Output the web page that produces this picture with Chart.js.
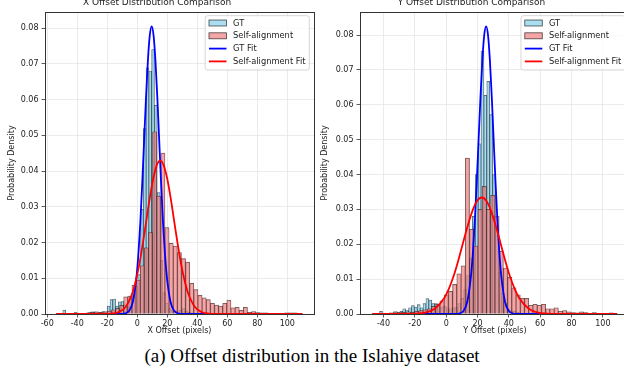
<!DOCTYPE html>
<html>
<head>
<meta charset="utf-8">
<script src="https://cdn.jsdelivr.net/npm/chart.js@4.4.0/dist/chart.umd.min.js"></script>
<style>
html,body{margin:0;padding:0;background:#fff;width:624px;height:383px;overflow:hidden;position:relative}
canvas{position:absolute;top:-10px}
#left{left:0}
#right{left:313px}
#caption{position:absolute;left:0;width:624px;top:346px;text-align:center;font-family:"Liberation Serif";font-size:19px;line-height:19px;color:#000;white-space:nowrap}
</style>
</head>
<body>
<canvas id="left" width="320" height="352"></canvas>
<canvas id="right" width="320" height="352"></canvas>
<div id="caption">(a) Offset distribution in the Islahiye dataset</div>
<script>
// tick labels
let ticksXL=[-60,-40,-20,0,20,40,60,80,100]
let ticksXR=[-40,-20,0,20,40,60,80,100]
let ticksY=[0,0.01,0.02,0.03,0.04,0.05,0.06,0.07,0.08]

let legendLabels=['GT','Self-alignment','GT Fit','Self-alignment Fit']

// X offset histograms (density per bin, bins)
let xGtStart=-49.6, xGtWidth=1.85
let xGt=[0.0011,0,0,0.0002,0.0004,0.0002,0,0.0002,0,0.0004,
 0.0006,0.0006,0.0005,0.0004,0.0007,0.0006,0.0022,0.0040,0.0042,0.0022,
 0.0034,0.0035,0.0026,0.0020,0.0050,0.0048,0.0078,0.0110,0.0293,0.0519,
 0.0689,0.0680,0.0740,0.0584,0.0340,0.0150,0.0060,0.0030,0.0015,0.0010,
 0.0008,0.0006,0.0010,0.0015,0.0008,0.0005,0.0003,0.0002,0.0001,0.0001]
let xSaStart=-53.05, xSaWidth=2.75
let xSa=[0.0002,0.0002,0.0002,0.0002,0.0003,0.0002,0.0002,0.0003,0.0005,0.0006,
 0.0005,0.0006,0.0008,0.0012,0.0016,0.0024,0.0048,0.0050,0.0080,0.0095,
 0.0135,0.0185,0.0228,0.0510,0.0330,0.0450,0.0242,0.0198,0.0190,0.0172,
 0.0155,0.0145,0.0086,0.0068,0.0052,0.0045,0.0040,0.0030,0.0025,0.0022,
 0.0030,0.0039,0.0017,0.0019,0.0010,0.0019,0.0005,0.0007,0.0004,0.0003,
 0.0003,0.0002,0.0002,0.0002,0.0001,0.0003,0.0003,0.0003,0.0002]

// X offset fit curves
let xGtFitX=[-54,-10.4,-7.9,-5.4,-2.9,-0.4,0.85,2.1,3.35,4.6,5.85,7.1,8.35,9.6,10.85,12.1,13.35,14.6,15.85,17.1,18.35,19.6,22.1,24.6,27.1,29.6,110]
let xGtFitY=[0,0,0.0002,0.0009,0.0035,0.0109,0.0174,0.0261,0.0369,0.0488,0.0608,0.0710,0.0780,0.0805,0.0780,0.0710,0.0608,0.0488,0.0369,0.0261,0.0174,0.0109,0.0035,0.0009,0.0002,0,0]
let xSaFitX=[-54,-21.9,-17.25,-12.6,-7.95,-3.3,-0.975,1.35,3.675,6.0,8.325,10.65,12.975,15.3,17.625,19.95,22.275,24.6,26.925,29.25,31.575,33.9,38.55,43.2,47.85,52.5,110]
let xSaFitY=[0,0,0.0001,0.0005,0.0019,0.0058,0.0093,0.0139,0.0196,0.0260,0.0324,0.0379,0.0416,0.0429,0.0416,0.0379,0.0324,0.0260,0.0196,0.0139,0.0093,0.0058,0.0019,0.0005,0.0001,0,0]

// Y offset histograms
let yGtStart=-42.5, yGtWidth=1.85
let yGt=[0.0008,0,0,0,0,0.0006,0.0004,0.0008,0.0015,0.0010,
 0.0018,0.0024,0.0020,0.0027,0.0018,0.0030,0.0044,0.0040,0.0030,0.0030,
 0.0025,0.0020,0.0022,0.0018,0.0015,0.0018,0.0020,0.0030,0.0045,0.0070,
 0.0110,0.0160,0.0280,0.0400,0.0488,0.0754,0.0627,0.0667,0.0572,0.0400,
 0.0250,0.0120,0.0060,0.0030,0.0015,0.0010,0.0008,0.0005,0.0003,0.0002]
let ySaStart=-47.2, ySaWidth=2.7
let ySa=[0.0002,0.0002,0.0002,0.0002,0.0003,0.0006,0.0004,0.0005,0.0006,0.0005,
 0.0008,0.0010,0.0012,0.0015,0.0022,0.0028,0.0038,0.0055,0.0065,0.0085,
 0.0115,0.0138,0.0447,0.0243,0.0195,0.0300,0.0366,0.0300,0.0340,0.0281,
 0.0180,0.0132,0.0105,0.0075,0.0055,0.0045,0.0045,0.0025,0.0028,0.0025,
 0.0028,0.0015,0.0015,0.0018,0.0008,0.0010,0.0006,0.0004,0.0003,0.0006,
 0.0004,0.0002,0.0004,0.0002,0.0002,0.0002,0.0003,0.0002]

// Y offset fit curves
let yGtFitX=[-47,6.3,8.7,11.1,13.5,15.9,17.1,18.3,19.5,20.7,21.9,23.1,24.3,25.5,26.7,27.9,29.1,30.3,31.5,32.7,33.9,35.1,37.5,39.9,42.3,44.7,109]
let yGtFitY=[0,0,0.0002,0.0009,0.0036,0.0112,0.0178,0.0268,0.0378,0.0500,0.0623,0.0728,0.0800,0.0825,0.0800,0.0728,0.0623,0.0500,0.0378,0.0268,0.0178,0.0112,0.0036,0.0009,0.0002,0,0]
let ySaFitX=[-47,-25.3,-19.3,-13.3,-7.3,-1.3,1.7,4.7,7.7,10.7,13.7,16.7,19.7,22.7,25.7,28.7,31.7,34.7,37.7,40.7,43.7,46.7,52.7,58.7,64.7,70.7,109]
let ySaFitY=[0,0,0.0001,0.0004,0.0015,0.0045,0.0072,0.0108,0.0153,0.0203,0.0252,0.0295,0.0324,0.0334,0.0324,0.0295,0.0252,0.0203,0.0153,0.0108,0.0072,0.0045,0.0015,0.0004,0.0001,0,0]

const FONT='"DejaVu Sans"'
const skyblue='rgba(135,206,235,0.7)'
const coral='rgba(240,128,128,0.7)'
const edge='rgba(0,0,0,0.7)'

function bins(start,width,vals){
    return vals.map((v,i)=>({x:start+width*(i+0.5),y:v}))
}
function pts(xs,ys){
    return xs.map((x,i)=>({x:x,y:ys[i]}))
}

// spines on all four sides
const frame={
    id:'frame',
    afterDatasetsDraw(chart){
        const ctx=chart.ctx, a=chart.chartArea
        const l=Math.round(a.left-0.5)+0.5, r=Math.round(a.right-0.5)+0.5
        const t=Math.round(a.top-0.5)+0.5, b=Math.round(a.bottom-0.5)+0.5
        ctx.save()
        ctx.strokeStyle='#333'
        ctx.lineWidth=1
        ctx.strokeRect(l,t,r-l,b-t)
        ctx.restore()
    }
}

// matplotlib style legend in the upper right corner of the plot
const boxLegend={
    id:'boxLegend',
    afterDraw(chart){
        const ctx=chart.ctx, a=chart.chartArea
        const fs=8.3, pad=3.3, hl=17.5, gap=6.6, row=12.8
        const sets=chart.data.datasets
        ctx.save()
        ctx.font=fs+'px '+FONT
        let tw=0
        sets.forEach(d=>{tw=Math.max(tw,ctx.measureText(d.label).width)})
        const w=pad*2+hl+gap+tw+1
        const h=54.3
        const x=a.right-4.7-w
        const y=a.top+3.7
        ctx.fillStyle='rgba(255,255,255,0.8)'
        ctx.strokeStyle='#cccccc'
        ctx.lineWidth=0.8
        ctx.beginPath()
        if(ctx.roundRect) ctx.roundRect(x,y,w,h,2.5)
        else ctx.rect(x,y,w,h)
        ctx.fill()
        ctx.stroke()
        sets.forEach((d,i)=>{
            const cy=y+7.3+i*row
            const hx=x+pad+0.5
            if(d.type==='line'){
                ctx.strokeStyle=d.borderColor
                ctx.lineWidth=1.8
                ctx.beginPath()
                ctx.moveTo(hx,cy)
                ctx.lineTo(hx+hl,cy)
                ctx.stroke()
            }else{
                ctx.fillStyle=d.backgroundColor
                ctx.fillRect(hx,cy-3,hl,6)
                ctx.strokeStyle=edge
                ctx.lineWidth=0.8
                ctx.strokeRect(hx,cy-3,hl,6)
            }
            ctx.fillStyle='#222'
            ctx.textBaseline='middle'
            ctx.textAlign='left'
            ctx.fillText(d.label,hx+hl+gap,cy+0.5)
        })
        ctx.restore()
    }
}

function histChart(canvas,c){
    const xAxis=(show)=>({
        type:'linear',
        axis:'x',
        position:'bottom',
        display:show,
        min:c.xmin,
        max:c.xmax,
        offset:false,
        afterBuildTicks:s=>{s.ticks=c.xticks.map(v=>({value:v}))},
        afterFit:s=>{if(show) s.height=28},
        grid:{color:'#e6e6e6',lineWidth:0.8,offset:false,tickColor:'#333',tickLength:3.5,tickWidth:0.8},
        border:{display:true,color:'#333',width:1},
        ticks:{color:'#222',font:{family:FONT,size:8},padding:2,maxRotation:0,callback:v=>String(v)},
        title:{display:show,text:c.xtitle,color:'#222',font:{family:FONT,size:8},padding:{top:0,bottom:6.2}}
    })
    const barOpts={borderColor:edge,borderWidth:0.5,grouped:false,categoryPercentage:1,barPercentage:1,yAxisID:'y'}
    return new Chart(canvas,{
        type:'bar',
        data:{
            datasets:[
                Object.assign({label:legendLabels[0],data:bins(c.gtStart,c.gtWidth,c.gt),xAxisID:'x',
                 backgroundColor:skyblue,order:4},barOpts),
                Object.assign({label:legendLabels[1],data:bins(c.saStart,c.saWidth,c.sa),xAxisID:'x2',
                 backgroundColor:coral,order:3},barOpts),
                {type:'line',label:legendLabels[2],data:pts(c.gtFitX,c.gtFitY),xAxisID:'x',yAxisID:'y',
                 borderColor:'#0000ff',borderWidth:1.8,pointRadius:0,cubicInterpolationMode:'monotone',fill:false,order:2},
                {type:'line',label:legendLabels[3],data:pts(c.saFitX,c.saFitY),xAxisID:'x',yAxisID:'y',
                 borderColor:'#ff0000',borderWidth:1.8,pointRadius:0,cubicInterpolationMode:'monotone',fill:false,order:1}
            ]
        },
        options:{
            responsive:false,
            animation:false,
            events:[],
            layout:{padding:{left:0,right:c.padRight,top:0,bottom:0}},
            plugins:{
                legend:{display:false},
                tooltip:{enabled:false},
                title:{display:true,text:c.title,color:'#222',font:{family:FONT,size:9,weight:'normal'},padding:{top:7.6,bottom:3.6}}
            },
            scales:{
                x:xAxis(true),
                x2:xAxis(false),
                y:{
                    type:'linear',
                    position:'left',
                    min:0,
                    max:c.ymax,
                    afterBuildTicks:s=>{s.ticks=ticksY.map(v=>({value:v}))},
                    afterFit:s=>{s.width=c.yWidth},
                    grid:{color:'#e6e6e6',lineWidth:0.8,tickColor:'#333',tickLength:3.5,tickWidth:0.8},
                    border:{display:true,color:'#333',width:1},
                    ticks:{color:'#222',font:{family:FONT,size:8},padding:3,callback:v=>v.toFixed(2)},
                    title:{display:true,text:'Probability Density',color:'#222',font:{family:FONT,size:8},padding:{top:7.2,bottom:0}}
                }
            }
        },
        plugins:[frame,boxLegend]
    })
}

histChart(document.getElementById('left'),{
    title:'X Offset Distribution Comparison',xtitle:'X Offset (pixels)',
    xmin:-61.5,xmax:117.8,xticks:ticksXL,ymax:0.0845,yWidth:45,padRight:6,
    gtStart:xGtStart,gtWidth:xGtWidth,gt:xGt,saStart:xSaStart,saWidth:xSaWidth,sa:xSa,
    gtFitX:xGtFitX,gtFitY:xGtFitY,saFitX:xSaFitX,saFitY:xSaFitY
})
histChart(document.getElementById('right'),{
    title:'Y Offset Distribution Comparison',xtitle:'Y Offset (pixels)',
    xmin:-55,xmax:117.2,xticks:ticksXR,ymax:0.0866,yWidth:47,padRight:3.2,
    gtStart:yGtStart,gtWidth:yGtWidth,gt:yGt,saStart:ySaStart,saWidth:ySaWidth,sa:ySa,
    gtFitX:yGtFitX,gtFitY:yGtFitY,saFitX:ySaFitX,saFitY:ySaFitY
})
</script>
</body>
</html>
